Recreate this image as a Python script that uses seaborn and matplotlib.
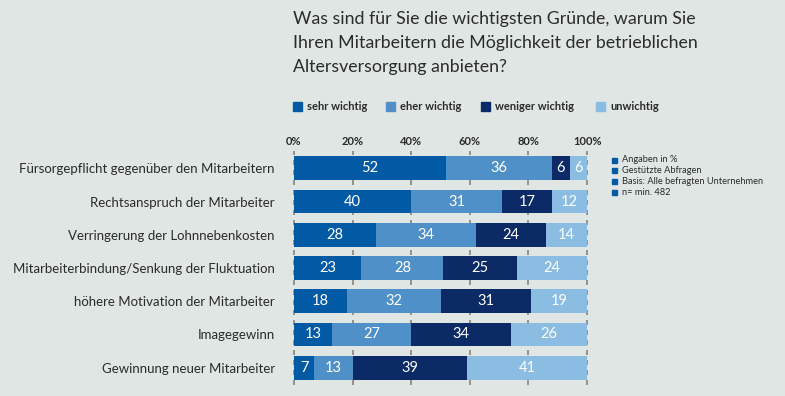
import numpy as np
import pandas as pd
import matplotlib
matplotlib.use("Agg")
import matplotlib.pyplot as plt
import seaborn as sns

categories = [
    "Fürsorgepflicht gegenüber den Mitarbeitern",
    "Rechtsanspruch der Mitarbeiter",
    "Verringerung der Lohnnebenkosten",
    "Mitarbeiterbindung/Senkung der Fluktuation",
    "höhere Motivation der Mitarbeiter",
    "Imagegewinn",
    "Gewinnung neuer Mitarbeiter",
]
sehr_wichtig = [52, 40, 28, 23, 18, 13, 7]
eher_wichtig = [36, 31, 34, 28, 32, 27, 13]
weniger_wichtig = [6, 17, 24, 25, 31, 34, 39]
unwichtig = [6, 12, 14, 24, 19, 26, 41]

series_names = ["sehr wichtig", "eher wichtig", "weniger wichtig", "unwichtig"]
colors = ["#025aa5", "#5090c8", "#0b2a66", "#8bbde3"]
tick_values = [0, 20, 40, 60, 80, 100]

notes = ["Angaben in %", "Gestützte Abfragen",
         "Basis: Alle befragten Unternehmen", "n= min. 482"]
title = ("Was sind für Sie die wichtigsten Gründe, warum Sie\n"
         "Ihren Mitarbeitern die Möglichkeit der betrieblichen\n"
         "Altersversorgung anbieten?")

BG = "#dfe6e4"
TXT = "#2b2b2b"

sns.set_style("white")
plt.rcParams["font.family"] = ["Lato", "DejaVu Sans"]

values = np.array([sehr_wichtig, eher_wichtig, weniger_wichtig, unwichtig])
cum = values.cumsum(axis=0)

fig = plt.figure(figsize=(7.85, 3.96), dpi=100, facecolor=BG)
ax = fig.add_axes([293 / 785, 1 - 385 / 396, 295 / 785, 234 / 396])
ax.set_facecolor(BG)

# gestapelte Balken: kumulierte Summen von hinten nach vorne zeichnen
for i in range(3, -1, -1):
    df = pd.DataFrame({"cat": categories, "val": cum[i]})
    sns.barplot(data=df, x="val", y="cat", orient="h", color=colors[i],
                saturation=1, width=0.72, ax=ax, zorder=3, linewidth=0)

# gestrichelte Hilfslinien, nur in den Lücken sichtbar
for t in tick_values:
    ax.axvline(t, color="#8a8275", lw=1.2, ls=(0, (3, 3)), zorder=2)

# Werte in die Segmente schreiben
for r in range(len(categories)):
    for i in range(4):
        left = cum[i][r] - values[i][r]
        ax.text(left + values[i][r] / 2, r, str(values[i][r]),
                ha="center", va="center", color="white", fontsize=10.5, zorder=5)

ax.set_xlim(-0.3, 100.3)
ax.set_ylim(6.52, -0.52)
ax.xaxis.tick_top()
ax.set_xticks(tick_values)
ax.set_xticklabels([f"{t}%" for t in tick_values], fontsize=8,
                   fontweight="bold", color=TXT)
ax.tick_params(axis="x", length=0, pad=3)
ax.tick_params(axis="y", length=0, pad=13)
ax.set_yticks(range(len(categories)))
ax.set_yticklabels(categories, fontsize=9.5, color=TXT)
ax.set_xlabel("")
ax.set_ylabel("")
for s in ax.spines.values():
    s.set_visible(False)

fig.text(293 / 785, 1 - 11 / 396, title, ha="left", va="top",
         fontsize=12.8, color=TXT, linespacing=1.6)

# Legende
leg_x = [293, 386, 481, 596]
for x, name, c in zip(leg_x, series_names, colors):
    fig.patches.append(plt.Rectangle((x / 785, 1 - 111 / 396), 9 / 785, 9 / 396,
                                     transform=fig.transFigure, color=c))
    fig.text((x + 14) / 785, 1 - 106.5 / 396, name, ha="left", va="center",
             fontsize=8, fontweight="bold", color=TXT)

# Hinweise rechts
for k, n in enumerate(notes):
    y = 160 + k * 10.7
    fig.patches.append(plt.Rectangle((612 / 785, 1 - (y + 2.5) / 396), 5 / 785, 5 / 396,
                                     transform=fig.transFigure, color=colors[0]))
    fig.text(622 / 785, 1 - y / 396, n, ha="left", va="center",
             fontsize=6.7, color=TXT)

fig.savefig("out.png", dpi=100, facecolor=BG)
